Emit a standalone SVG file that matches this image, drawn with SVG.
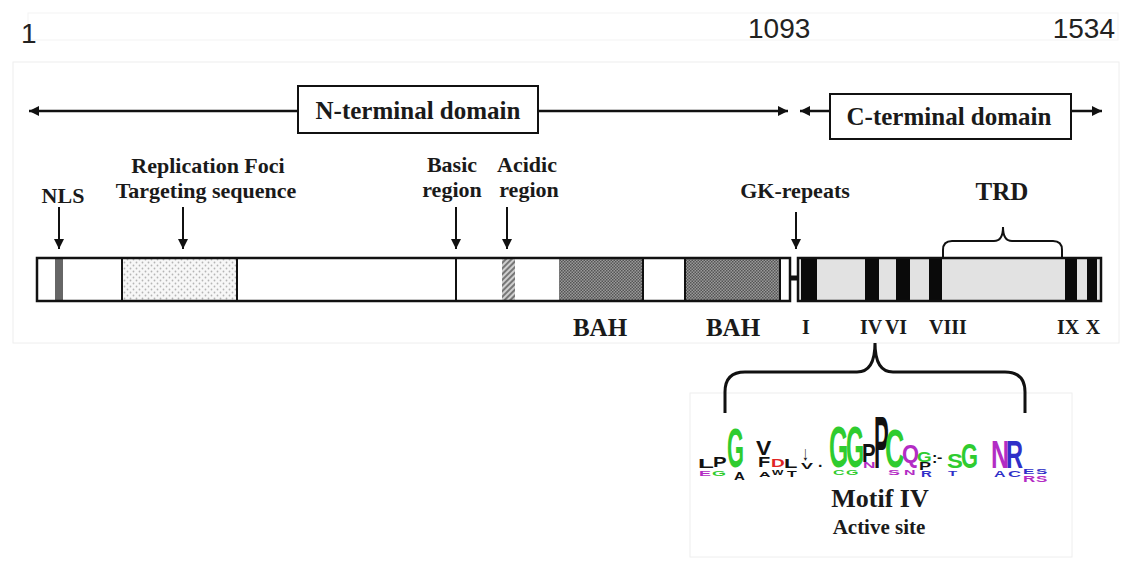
<svg xmlns="http://www.w3.org/2000/svg" width="1124" height="561" viewBox="0 0 1124 561">
<defs>
<style>
.num{font-family:"Liberation Sans",Arial,sans-serif;font-size:28px;fill:#222}
.lbl{font-family:"Liberation Serif","Times New Roman",serif;font-weight:bold;font-size:22px;fill:#1a1a1a;text-anchor:middle}
.dom{font-family:"Liberation Serif","Times New Roman",serif;font-weight:bold;font-size:25px;fill:#1a1a1a;text-anchor:middle}
.rom{font-family:"Liberation Serif","Times New Roman",serif;font-weight:bold;font-size:20px;fill:#1a1a1a;text-anchor:middle}
.bah{font-family:"Liberation Serif","Times New Roman",serif;font-weight:bold;font-size:25px;fill:#1a1a1a;text-anchor:middle}
.lg{font-family:"Liberation Sans","DejaVu Sans",Arial,sans-serif;font-weight:bold;font-size:10px}
.ln{stroke:#111;stroke-width:2.5;fill:none}
.dn{stroke:#111;stroke-width:2;fill:none}
.box{fill:#fff;stroke:#111;stroke-width:2}
.bk{fill:#0a0a0a}
.gr{fill:#2fcc2f}.mg{fill:#b32cc4}.bl{fill:#3030c8}.rd{fill:#e02424}.bkk{fill:#111}
</style>
<marker id="ah" markerUnits="userSpaceOnUse" markerWidth="12" markerHeight="10" refX="10" refY="5" orient="auto-start-reverse">
<path d="M0,0 L10,5 L0,10 z" fill="#111"/>
</marker>
<pattern id="dots" width="6" height="6" patternUnits="userSpaceOnUse">
<rect width="6" height="6" fill="#f7f7f7"/>
<circle cx="1.5" cy="1.5" r="0.9" fill="#b5b5b5"/>
<circle cx="4.5" cy="4.5" r="0.9" fill="#b5b5b5"/>
</pattern>
<pattern id="chk" width="3" height="3" patternUnits="userSpaceOnUse">
<rect width="3" height="3" fill="#9a9a9a"/>
<rect width="1.5" height="1.5" fill="#555"/>
<rect x="1.5" y="1.5" width="1.5" height="1.5" fill="#555"/>
</pattern>
<pattern id="hatch" width="4" height="4" patternUnits="userSpaceOnUse" patternTransform="rotate(45)">
<rect width="4" height="4" fill="#cfcfcf"/>
<rect width="2" height="4" fill="#777"/>
</pattern>
</defs>

<rect width="1124" height="561" fill="#fff"/>
<rect x="28" y="13" width="1090" height="27" fill="none" stroke="#f3f3f3" stroke-width="1"/>
<rect x="13" y="62" width="1106" height="281" fill="none" stroke="#eeeeee" stroke-width="1"/>
<rect x="690" y="393" width="382" height="164" fill="none" stroke="#eeeeee" stroke-width="1"/>

<g id="scale">
<text class="num" x="21" y="43">1</text>
<text class="num" x="748" y="38">1093</text>
<text class="num" x="1115" y="38" text-anchor="end">1534</text>
</g>

<g id="connectors">
<line class="ln" x1="29" y1="111" x2="788" y2="111" marker-start="url(#ah)" marker-end="url(#ah)"/>
<line class="ln" x1="800" y1="111" x2="1102" y2="111" marker-start="url(#ah)" marker-end="url(#ah)"/>
<line class="dn" x1="59" y1="207" x2="59" y2="249" marker-end="url(#ah)"/>
<line class="dn" x1="183" y1="207" x2="183" y2="249" marker-end="url(#ah)"/>
<line class="dn" x1="456" y1="207" x2="456" y2="249" marker-end="url(#ah)"/>
<line class="dn" x1="507" y1="207" x2="507" y2="249" marker-end="url(#ah)"/>
<line class="dn" x1="796" y1="212" x2="796" y2="249" marker-end="url(#ah)"/>
<path d="M943,257 V250 Q943,241 952,241 H994 Q1003,241 1003,227 Q1003,241 1012,241 H1053 Q1062,241 1062,250 V257" fill="none" stroke="#111" stroke-width="2"/>
<path d="M725,413 V392 Q725,372 745,372 H857 Q875,372 875,343 Q875,372 893,372 H1005 Q1025,372 1025,392 V413" fill="none" stroke="#111" stroke-width="3"/>
</g>

<g id="n-terminal-domain">
<rect class="box" x="298" y="86" width="240" height="47"/>
<text class="dom" x="418" y="119">N-terminal domain</text>
</g>
<g id="c-terminal-domain">
<rect class="box" x="830" y="94" width="241" height="45"/>
<text class="dom" x="949" y="125">C-terminal domain</text>
</g>

<g id="labels">
<text class="lbl" x="63" y="203">NLS</text>
<text class="lbl" x="208" y="173">Replication Foci</text>
<text class="lbl" x="206" y="198">Targeting sequence</text>
<text class="lbl" x="452" y="172">Basic</text>
<text class="lbl" x="452" y="197">region</text>
<text class="lbl" x="527" y="172">Acidic</text>
<text class="lbl" x="529" y="197">region</text>
<text class="lbl" x="795" y="198">GK-repeats</text>
<text class="lbl" x="1002" y="200" style="font-size:25px">TRD</text>
</g>

<g id="n-bar">
<rect x="37" y="258" width="753" height="43" fill="#fff"/>
<rect x="55" y="258" width="8" height="43" fill="#666"/>
<rect x="122" y="258" width="115" height="43" fill="url(#dots)"/>
<rect x="502" y="258" width="13" height="43" fill="url(#hatch)"/>
<rect x="559" y="258" width="84" height="43" fill="url(#chk)"/>
<rect x="685" y="258" width="95" height="43" fill="url(#chk)"/>
<g stroke="#111" stroke-width="2">
<line x1="122" y1="258" x2="122" y2="301"/>
<line x1="237" y1="258" x2="237" y2="301"/>
<line x1="456" y1="258" x2="456" y2="301"/>
<line x1="643" y1="258" x2="643" y2="301"/>
<line x1="685" y1="258" x2="685" y2="301"/>
<line x1="780" y1="258" x2="780" y2="301"/>
</g>
<rect x="37" y="258" width="753" height="43" fill="none" stroke="#111" stroke-width="2.5"/>
<line x1="790" y1="278" x2="799" y2="278" stroke="#111" stroke-width="5"/>
</g>

<g id="c-bar">
<rect x="798" y="258" width="303" height="43" fill="#e2e2e2"/>
<rect class="bk" x="801" y="258" width="16" height="43"/>
<rect class="bk" x="865" y="258" width="14" height="43"/>
<rect class="bk" x="896" y="258" width="14" height="43"/>
<rect class="bk" x="929" y="258" width="13" height="43"/>
<rect class="bk" x="1065" y="258" width="12" height="43"/>
<rect class="bk" x="1087" y="258" width="10" height="43"/>
<rect x="798" y="258" width="303" height="43" fill="none" stroke="#111" stroke-width="2.5"/>
</g>

<g id="bar-labels">
<text class="bah" x="600" y="336">BAH</text>
<text class="bah" x="733" y="336">BAH</text>
<text class="rom" x="806" y="334">I</text>
<text class="rom" x="871" y="334">IV</text>
<text class="rom" x="896" y="334">VI</text>
<text class="rom" x="948" y="334">VIII</text>
<text class="rom" x="1068" y="334">IX</text>
<text class="rom" x="1093" y="334">X</text>
</g>

<g id="motif-logo">
<text class="lg mg" transform="translate(699,476) scale(1.8,0.8)">E</text>
<text class="lg gr" transform="translate(712,476) scale(1.8,0.8)">G</text>
<text class="lg bkk" transform="translate(734,480) scale(1.5,1.1)">A</text>
<text class="lg bkk" transform="translate(759,477) scale(1.6,0.8)">A</text>
<text class="lg bkk" transform="translate(772,475) scale(1.2,0.8)">W</text>
<text class="lg bkk" transform="translate(787,477) scale(1.6,0.9)">T</text>
<text class="lg gr" transform="translate(833,475) scale(1.6,0.8)">C</text>
<text class="lg gr" transform="translate(846,475) scale(1.6,0.8)">G</text>
<text class="lg mg" transform="translate(888,475) scale(1.8,0.8)">S</text>
<text class="lg mg" transform="translate(904,475) scale(1.6,0.8)">N</text>
<text class="lg bl" transform="translate(921,477) scale(1.5,0.9)">R</text>
<text class="lg bl" transform="translate(948,476) scale(1.5,0.8)">T</text>
<text class="lg bl" transform="translate(994,477) scale(1.6,0.9)">A</text>
<text class="lg bl" transform="translate(1008,477) scale(1.8,0.9)">C</text>
<text class="lg bl" transform="translate(1023,474) scale(1.7,0.8)">E</text>
<text class="lg bl" transform="translate(1036,474) scale(1.7,0.8)">S</text>
<text class="lg mg" transform="translate(1023,482) scale(1.7,0.9)">R</text>
<text class="lg mg" transform="translate(1036,482) scale(1.7,0.9)">S</text>

<text class="lg bkk" transform="translate(698,468) scale(2.6,1.25)">L</text>
<text class="lg bkk" transform="translate(713,467) scale(2.04,1.39)">P</text>
<text class="lg gr" transform="translate(727,467) scale(2.19,5.6)">G</text>
<text class="lg bkk" transform="translate(756,455) scale(2.3,1.94)">V</text>
<text class="lg bkk" transform="translate(758,467) scale(2.0,1.5)">F</text>
<text class="lg rd" transform="translate(771,467) scale(1.9,1.1)">D</text>
<text class="lg bkk" transform="translate(784,468) scale(2.2,1.25)">L</text>
<text class="lg bkk" transform="translate(802,460) scale(1.3,2.0)">↓</text>
<text class="lg bkk" transform="translate(801,469) scale(1.8,0.97)">V</text>
<text class="lg bkk" transform="translate(818,467) scale(1.6,1.4)">.</text>
<text class="lg gr" transform="translate(829,467) scale(2.48,5.8)">G</text>
<text class="lg gr" transform="translate(846,467) scale(2.34,5.8)">G</text>
<text class="lg bkk" transform="translate(862,462) scale(2.04,2.64)">P</text>
<text class="lg mg" transform="translate(863,468) scale(1.73,0.83)">N</text>
<text class="lg bkk" transform="translate(874,468) scale(2.21,7.4)">P</text>
<text class="lg gr" transform="translate(885,467) scale(2.68,5.4)">C</text>
<text class="lg mg" transform="translate(902,463) scale(2.19,2.5)">Q</text>
<text class="lg gr" transform="translate(917,462) scale(1.9,1.39)">G</text>
<text class="lg bkk" transform="translate(919,470) scale(1.8,1.1)">P</text>
<text class="lg bkk" transform="translate(932,463) scale(1.6,1.5)">:</text>
<text class="lg bkk" transform="translate(937,462) scale(1.6,1.2)">-</text>
<text class="lg gr" transform="translate(947,468) scale(2.39,2.08)">S</text>
<text class="lg gr" transform="translate(961,468) scale(2.19,3.47)">G</text>
<text class="lg mg" transform="translate(991,468) scale(2.52,3.89)">N</text>
<text class="lg bl" transform="translate(1006,468) scale(2.36,3.89)">R</text>
</g>

<g id="motif-label">
<text class="dom" x="880" y="507" style="font-size:26px">Motif IV</text>
<text class="lbl" x="879" y="534" style="font-size:21px">Active site</text>
</g>
</svg>
